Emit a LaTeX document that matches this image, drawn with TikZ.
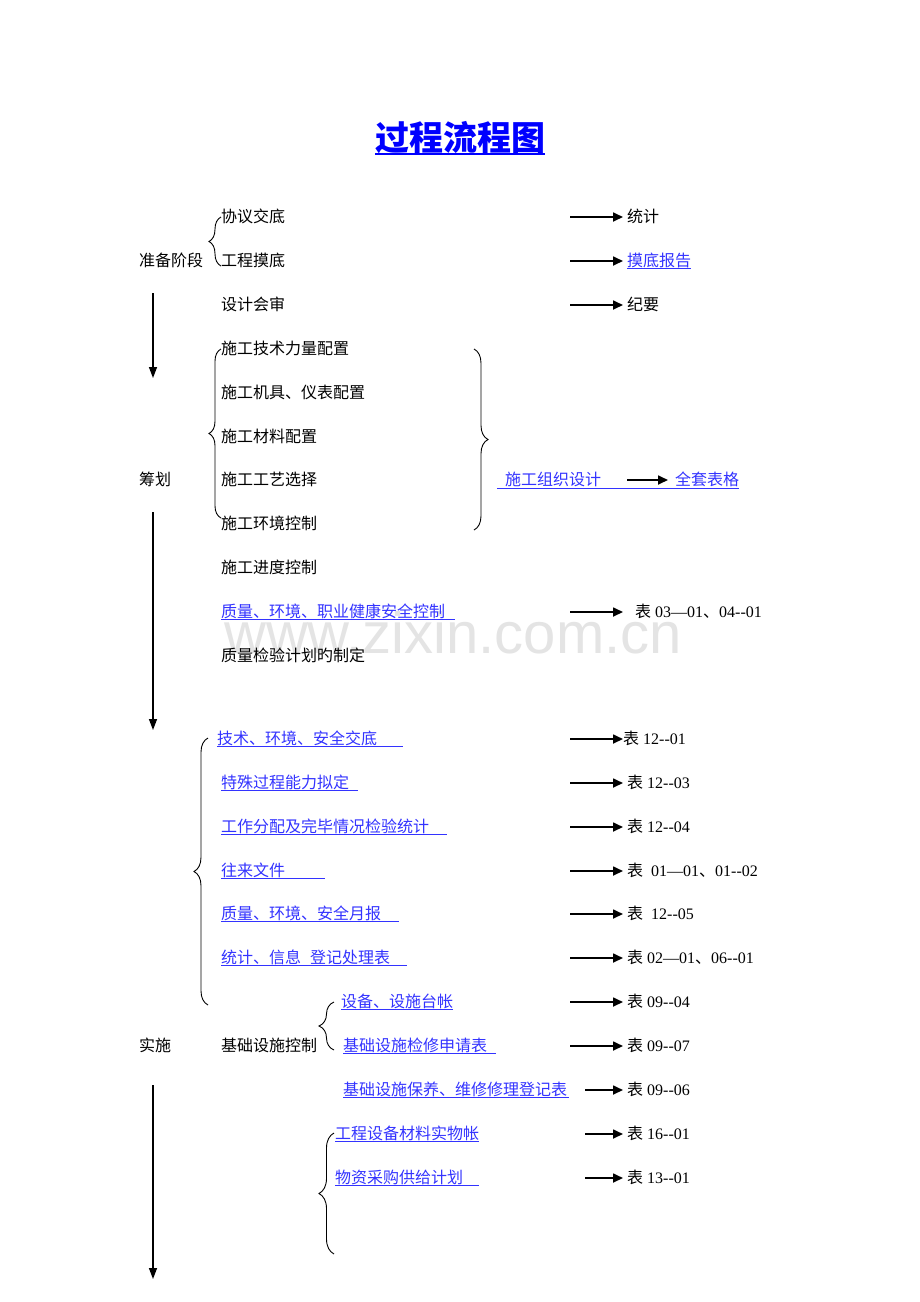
\documentclass[tikz,border=0pt]{standalone}
\usepackage{fontspec}
\setmainfont{Liberation Serif}
\newfontfamily\cjk{Noto Sans CJK SC}
\newfontfamily\wmfont{Liberation Sans}
\usetikzlibrary{arrows.meta,decorations.pathreplacing}
\definecolor{linkblue}{RGB}{51,51,255}
\definecolor{wmgray}{RGB}{228,228,228}
\tikzset{
  txt/.style={anchor=base west,inner sep=0pt,font=\fontsize{16}{19}\selectfont\cjk},
  lnk/.style={txt,text=linkblue},
  tbl/.style={anchor=base west,inner sep=0pt,font=\fontsize{16}{19}\selectfont},
  uline/.style={draw=linkblue,line width=1pt},
  harrow/.style={line width=1.7pt,-{Triangle[length=10pt,width=9pt]}},
  varrow/.style={line width=1.4pt,-{Triangle[length=11pt,width=8pt]}},
  brc/.style={decorate,decoration={brace,amplitude=#1},line width=0.9pt},
  wmark/.style={anchor=base,inner sep=0pt,text=wmgray,font=\fontsize{58}{60}\selectfont\wmfont},
  ttl/.style={anchor=base,inner sep=0pt,text=blue,font=\fontsize{34}{40}\selectfont\cjk\bfseries}
}
\begin{document}
\begin{tikzpicture}[x=1pt,y=-1pt]
\fill[white] (0,0) rectangle (920,1302);
\path[use as bounding box] (0,0) rectangle (920,1302);

% watermark
\node[wmark] (wm) at (453,653) {www.zixin.com.cn};

% title
\node[ttl] (title) at (460,150) {过程流程图};
\draw[blue,line width=1.6pt] (375,154) -- (545,154);

% stage labels
\node[txt] (s1) at (139,266) {准备阶段};
\node[txt] (s2) at (139,485) {筹划};
\node[txt] (s3) at (139,1051) {实施};

% vertical arrows
\coordinate (v1a) at (153,293); \coordinate (v1b) at (153,378);
\coordinate (v2a) at (153,512); \coordinate (v2b) at (153,730);
\coordinate (v3a) at (153,1085); \coordinate (v3b) at (153,1279);
\draw[varrow] (v1a) -- (v1b);
\draw[varrow] (v2a) -- (v2b);
\draw[varrow] (v3a) -- (v3b);

% items column
\node[txt] (i1) at (221,222) {协议交底};
\node[txt] (i2) at (221,266) {工程摸底};
\node[txt] (i3) at (221,310) {设计会审};
\node[txt] (i4) at (221,354) {施工技术力量配置};
\node[txt] (i5) at (221,398) {施工机具、仪表配置};
\node[txt] (i6) at (221,442) {施工材料配置};
\node[txt] (i7) at (221,485) {施工工艺选择};
\node[txt] (i8) at (221,529) {施工环境控制};
\node[txt] (i9) at (221,573) {施工进度控制};
\node[lnk] (i10) at (221,617) {质量、环境、职业健康安全控制};
\draw[uline] (221,619) -- (455,619);
\node[txt] (i11) at (221,661) {质量检验计划旳制定};

\node[lnk] (i12) at (217,744) {技术、环境、安全交底};
\draw[uline] (217,746) -- (403,746);
\node[lnk] (i13) at (221,788) {特殊过程能力拟定};
\draw[uline] (221,790) -- (358,790);
\node[lnk] (i14) at (221,832) {工作分配及完毕情况检验统计};
\draw[uline] (221,834) -- (447,834);
\node[lnk] (i15) at (221,876) {往来文件};
\draw[uline] (221,878) -- (325,878);
\node[lnk] (i16) at (221,919) {质量、环境、安全月报};
\draw[uline] (221,921) -- (399,921);
\node[lnk] (i17) at (221,963) {统计、信息\hspace{9pt}登记处理表};
\draw[uline] (221,965) -- (407,965);

\node[lnk] (i18) at (341,1007) {设备、设施台帐};
\draw[uline] (341,1009) -- (453,1009);
\node[txt] (i19) at (221,1051) {基础设施控制};
\node[lnk] (i19b) at (343,1051) {基础设施检修申请表};
\draw[uline] (343,1053) -- (496,1053);
\node[lnk] (i20) at (343,1095) {基础设施保养、维修修理登记表};
\draw[uline] (343,1097) -- (569,1097);
\node[lnk] (i21) at (335,1139) {工程设备材料实物帐};
\draw[uline] (335,1141) -- (479,1141);
\node[lnk] (i22) at (335,1183) {物资采购供给计划};
\draw[uline] (335,1185) -- (479,1185);

% organisation design
\node[lnk] (od) at (505,485) {施工组织设计};
\node[lnk] (qt) at (675,485) {全套表格};
\draw[uline] (497,488) -- (739,488);
\coordinate (oda) at (627,480); \coordinate (odb) at (668,480);
\draw[harrow] (oda) -- (odb);

% braces
\draw[brc=12pt] (221,266) -- (221,217);
\draw[brc=12pt] (221,518) -- (221,349);
\draw[brc=14pt] (474,349) -- (474,530);
\draw[brc=14pt] (208,1005) -- (208,738);
\draw[brc=15pt] (334,1050) -- (334,1002);
\draw[brc=15pt] (334,1254) -- (334,1133);

% result column
\node[txt] (r1) at (627,222) {统计};
\node[lnk] (r2) at (627,266) {摸底报告};
\draw[uline] (627,268) -- (691,268);
\node[txt] (r3) at (627,310) {纪要};
\node[tbl] (r10) at (635,617) {{\cjk 表} 03—01{\cjk 、}04-{}-01};
\node[tbl] (r12) at (623,744) {{\cjk 表} 12-{}-01};
\node[tbl] (r13) at (627,788) {{\cjk 表} 12-{}-03};
\node[tbl] (r14) at (627,832) {{\cjk 表} 12-{}-04};
\node[tbl] (r15) at (627,876) {{\cjk 表}\ \ 01—01{\cjk 、}01-{}-02};
\node[tbl] (r16) at (627,919) {{\cjk 表}\ \ 12-{}-05};
\node[tbl] (r17) at (627,963) {{\cjk 表} 02—01{\cjk 、}06-{}-01};
\node[tbl] (r18) at (627,1007) {{\cjk 表} 09-{}-04};
\node[tbl] (r19) at (627,1051) {{\cjk 表} 09-{}-07};
\node[tbl] (r20) at (627,1095) {{\cjk 表} 09-{}-06};
\node[tbl] (r21) at (627,1139) {{\cjk 表} 16-{}-01};
\node[tbl] (r22) at (627,1183) {{\cjk 表} 13-{}-01};

% horizontal arrows
\foreach \n/\y in {1/217,2/261,3/305,10/612,12/739,13/783,14/827,15/871,16/914,17/958,18/1002,19/1046}{
  \coordinate (h\n a) at (570,\y);
  \coordinate (h\n b) at (623,\y);
  \draw[harrow] (h\n a) -- (h\n b);
}
\foreach \n/\y in {20/1090,21/1134,22/1178}{
  \coordinate (h\n a) at (585,\y);
  \coordinate (h\n b) at (623,\y);
  \draw[harrow] (h\n a) -- (h\n b);
}
\end{tikzpicture}
\end{document}
